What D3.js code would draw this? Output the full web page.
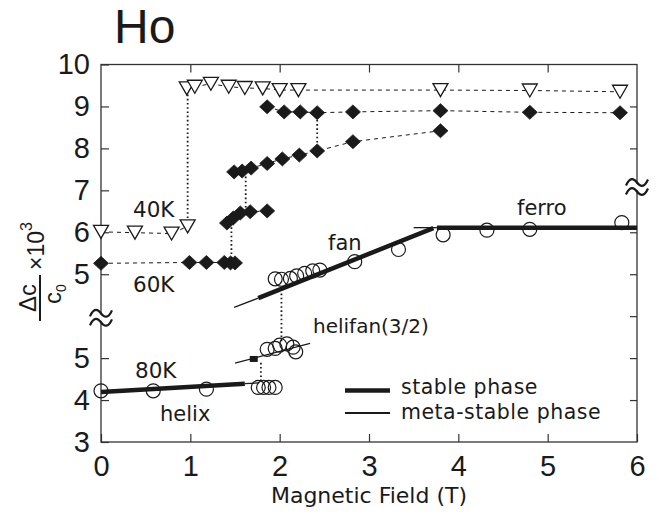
<!DOCTYPE html>
<html>
<head>
<meta charset="utf-8">
<script src="https://cdn.jsdelivr.net/npm/d3@7/dist/d3.min.js"></script>
<style>
  html, body { margin: 0; padding: 0; background: #fff; }
  svg { display: block; }
</style>
</head>
<body>
<script>
// ---- axis ticks ----
const xTicks = [0, 1, 2, 3, 4, 5, 6];
const yTicksUpper = [5, 6, 7, 8, 9, 10];
const yTicksLower = [3, 4, 5];

// ---- 40 K (open triangles, upper axis) ----
const k40LowField = [0, 0.38, 0.79, 0.97];
const k40LowDc = [6.01, 5.99, 5.97, 6.14];
const k40HighField = [0.96, 1.05, 1.23, 1.43, 1.61, 1.81, 2.00, 2.21, 3.80, 4.80, 5.81];
const k40HighDc = [9.43, 9.47, 9.54, 9.47, 9.44, 9.43, 9.39, 9.39, 9.39, 9.38, 9.35];

// ---- 60 K (filled diamonds, upper axis), four branches ----
const k60AField = [0, 0.99, 1.18, 1.38, 1.45, 1.50];
const k60ADc = [5.26, 5.28, 5.28, 5.28, 5.27, 5.27];
const k60BField = [1.41, 1.48, 1.56, 1.67, 1.86];
const k60BDc = [6.22, 6.34, 6.46, 6.49, 6.51];
const k60CField = [1.49, 1.58, 1.68, 1.86, 2.03, 2.22, 2.42, 2.82, 3.80];
const k60CDc = [7.44, 7.46, 7.53, 7.64, 7.75, 7.84, 7.94, 8.16, 8.42];
const k60DField = [1.86, 2.05, 2.23, 2.42, 2.82, 3.80, 4.80, 5.81];
const k60DDc = [8.99, 8.87, 8.87, 8.85, 8.87, 8.90, 8.86, 8.85];

// ---- 80 K (open circles, lower axis) ----
const k80HelixField = [0, 0.585, 1.18, 1.76, 1.82, 1.88, 1.95];
const k80HelixDc = [4.22, 4.22, 4.26, 4.30, 4.30, 4.30, 4.30];
const k80HelifanField = [1.86, 1.95, 2.00, 2.08, 2.15, 2.18];
const k80HelifanDc = [5.21, 5.23, 5.31, 5.34, 5.26, 5.15];
const k80FanField = [1.95, 2.02, 2.12, 2.19, 2.28, 2.37, 2.45, 2.84, 3.33, 3.83, 4.32, 4.80, 5.83];
const k80FanDc = [6.89, 6.88, 6.90, 6.96, 7.02, 7.08, 7.10, 7.30, 7.59, 7.94, 8.05, 8.07, 8.23];

// phase lines for 80 K: [field0, dc0, field1, dc1]
const stableLines = [
  [0, 4.19, 1.61, 4.39],     // helix
  [1.76, 6.43, 3.72, 8.10],  // fan
  [3.76, 8.11, 6.0, 8.11]    // ferro
];
const metaLines = [
  [1.61, 4.39, 1.77, 4.41],
  [1.50, 4.88, 2.34, 5.35],  // helifan(3/2)
  [1.49, 6.21, 1.76, 6.43],
  [3.50, 8.11, 3.76, 8.11]
];
const metaMarkField = 1.71, metaMarkDc = 4.98;

// vertical jumps: [field, dcFrom, dcTo]
const jumps40 = [[0.97, 6.14, 9.43]];
const jumps60 = [[1.46, 5.28, 6.22], [1.62, 6.49, 7.46], [2.42, 7.94, 8.85]];
const jumps80 = [[1.79, 4.45, 4.95], [2.02, 5.40, 6.67]];

// lower-axis values sit two units below the upper-axis grid
const LOWER_SHIFT = 2;

const W = 659, H = 517;
const svg = d3.select("body").append("svg").attr("width", W).attr("height", H);

const x = d3.scaleLinear().domain([0, 6]).range([101, 637]);
const y = d3.scaleLinear().domain([1, 10]).range([442, 64.5]);
const yLow = d3.scaleLinear().domain([1 + LOWER_SHIFT, 10 + LOWER_SHIFT]).range([442, 64.5]);

const ink = "#1a1a1a";
const labelFont = "'DejaVu Sans', sans-serif";
const tickFont = "'Liberation Sans', Arial, sans-serif";

// ---- frame ----
svg.append("rect")
  .attr("x", x(0)).attr("y", y(10))
  .attr("width", x(6) - x(0)).attr("height", y(1) - y(10))
  .attr("fill", "none").attr("stroke", "#333").attr("stroke-width", 1.3);

function styleAxis(g, showText) {
  g.select(".domain").remove();
  g.selectAll(".tick line").attr("stroke", "#333").attr("stroke-width", 1.2);
  g.selectAll(".tick text")
    .attr("fill", ink).style("font-family", tickFont).style("font-size", "29px");
  if (!showText) g.selectAll(".tick text").remove();
}

svg.append("g").attr("transform", `translate(0,${y(1)})`)
  .call(d3.axisBottom(x).tickValues(xTicks).tickFormat(d3.format("d")).tickSize(-8).tickPadding(13))
  .call(g => styleAxis(g, true));

svg.append("g").attr("transform", `translate(0,${y(10)})`)
  .call(d3.axisTop(x).tickValues([1, 2, 3, 4, 5]).tickSize(-8))
  .call(g => styleAxis(g, false));

svg.append("g").attr("transform", `translate(${x(0)},0)`)
  .call(d3.axisLeft(y).tickValues(yTicksUpper).tickFormat(d3.format("d")).tickSize(-8).tickPadding(11))
  .call(g => styleAxis(g, true));

svg.append("g").attr("transform", `translate(${x(0)},0)`)
  .call(d3.axisLeft(yLow).tickValues(yTicksLower).tickFormat(d3.format("d")).tickSize(-8).tickPadding(11))
  .call(g => styleAxis(g, true));

svg.append("g").attr("transform", `translate(${x(6)},0)`)
  .call(d3.axisRight(y).tickValues([2, 3, 4, 5, 6, 8, 9]).tickSize(-7))
  .call(g => styleAxis(g, false));

// axis break marks
function breakMark(cx, cy) {
  const g = svg.append("g").attr("transform", `translate(${cx},${cy})`);
  g.append("rect").attr("x", -3).attr("y", -3).attr("width", 6).attr("height", 6).attr("fill", "#fff");
  [-4.5, 4.5].forEach(dy => {
    g.append("path")
      .attr("d", `M-11,${dy + 3} C-7,${dy - 6} -3,${dy - 4} 0,${dy} C3,${dy + 4} 7,${dy + 6} 11,${dy - 3}`)
      .attr("fill", "none").attr("stroke", ink).attr("stroke-width", 2.2);
  });
}
breakMark(x(0), y(3.96));
breakMark(x(6), y(7.08));

// ---- helpers ----
const zip = (xs, ys) => xs.map((d, i) => [d, ys[i]]);
const dashed = "4,4";
const dotted = "1.6,2.6";

function drawPath(pts, yS, dash, width) {
  svg.append("path")
    .datum(pts)
    .attr("d", d3.line().x(d => x(d[0])).y(d => yS(d[1])))
    .attr("fill", "none").attr("stroke", ink)
    .attr("stroke-width", width).attr("stroke-dasharray", dash);
}
function drawJumps(list, yS) {
  list.forEach(j => drawPath([[j[0], j[1]], [j[0], j[2]]], yS, dotted, 1.8));
}

// ---- connecting lines ----
drawPath(zip(k40LowField, k40LowDc), y, dashed, 1);
drawPath(zip(k40HighField, k40HighDc), y, dashed, 1);
drawJumps(jumps40, y);

drawPath(zip(k60AField, k60ADc), y, dashed, 1);
drawPath(zip(k60BField, k60BDc), y, dashed, 1);
drawPath(zip(k60CField, k60CDc), y, dashed, 1);
drawPath(zip(k60DField, k60DDc), y, dashed, 1);
drawJumps(jumps60, y);

// 80 K phase lines
stableLines.forEach(s => drawPath([[s[0], s[1]], [s[2], s[3]]], yLow, null, 4.5));
metaLines.forEach(s => drawPath([[s[0], s[1]], [s[2], s[3]]], yLow, null, 1.3));
drawJumps(jumps80, yLow);

svg.append("rect")
  .attr("x", x(metaMarkField) - 4).attr("y", yLow(metaMarkDc) - 3)
  .attr("width", 8).attr("height", 6).attr("fill", ink);

// ---- markers ----
const triangle = "M-7.5,-6.5 L7.5,-6.5 L0,6.5 Z";
const diamond = "M0,-7 L7.5,0 L0,7 L-7.5,0 Z";

function drawMarkers(fields, values, yS, shape) {
  const g = svg.append("g");
  const pts = zip(fields, values);
  if (shape === "circle") {
    g.selectAll("circle").data(pts).join("circle")
      .attr("cx", d => x(d[0])).attr("cy", d => yS(d[1])).attr("r", 7)
      .attr("fill", "none").attr("stroke", ink).attr("stroke-width", 1.2);
  } else {
    g.selectAll("path").data(pts).join("path")
      .attr("transform", d => `translate(${x(d[0])},${yS(d[1])})`)
      .attr("d", shape === "tri" ? triangle : diamond)
      .attr("fill", shape === "tri" ? "#fff" : ink)
      .attr("stroke", ink).attr("stroke-width", shape === "tri" ? 1.3 : 0.8);
  }
}

drawMarkers(k40LowField, k40LowDc, y, "tri");
drawMarkers(k40HighField, k40HighDc, y, "tri");
drawMarkers(k60AField, k60ADc, y, "dia");
drawMarkers(k60BField, k60BDc, y, "dia");
drawMarkers(k60CField, k60CDc, y, "dia");
drawMarkers(k60DField, k60DDc, y, "dia");
drawMarkers(k80HelixField, k80HelixDc, yLow, "circle");
drawMarkers(k80HelifanField, k80HelifanDc, yLow, "circle");
drawMarkers(k80FanField, k80FanDc, yLow, "circle");

// ---- text labels ----
function label(txt, px, py, size, anchor) {
  return svg.append("text").attr("x", px).attr("y", py)
    .attr("text-anchor", anchor || "start")
    .style("font-family", labelFont).style("font-size", size + "px")
    .attr("fill", ink).text(txt);
}
label("40K", 133, 217, 21.5);
label("60K", 133, 292, 21.5);
label("80K", 135, 378, 21.5);
label("helix", 160, 421, 21);
label("fan", 328, 250, 21);
label("helifan(3/2)", 313, 333, 20);
label("ferro", 517, 215, 21);

// title
svg.append("text").attr("x", 114).attr("y", 43)
  .style("font-family", tickFont).style("font-size", "48px")
  .attr("fill", ink).text("Ho");

// x-axis title
label("Magnetic Field (T)", x(3), 503, 22, "middle");

// y-axis title: Δc / c0 × 10^3
const yt = svg.append("g").attr("transform", "translate(40,298) rotate(-90)")
  .style("font-family", tickFont).attr("fill", ink);
yt.append("text").attr("x", 0).attr("y", -4).attr("text-anchor", "middle")
  .style("font-size", "24px").text("Δc");
yt.append("line").attr("x1", -23).attr("x2", 23).attr("y1", 0).attr("y2", 0)
  .attr("stroke", ink).attr("stroke-width", 2);
const den = yt.append("text").attr("x", 4).attr("y", 21).attr("text-anchor", "middle")
  .style("font-size", "24px");
den.append("tspan").text("c");
den.append("tspan").attr("dy", 5).style("font-size", "14px").text("0");
const mult = yt.append("text").attr("x", 28).attr("y", 4).style("font-size", "23px");
mult.append("tspan").text("×10");
mult.append("tspan").attr("dy", -12).style("font-size", "16px").text("3");

// ---- legend ----
svg.append("line").attr("x1", 345).attr("x2", 390).attr("y1", 390.5).attr("y2", 390.5)
  .attr("stroke", ink).attr("stroke-width", 4.5);
svg.append("line").attr("x1", 345).attr("x2", 390).attr("y1", 413).attr("y2", 413)
  .attr("stroke", ink).attr("stroke-width", 2);
label("stable phase", 401, 394, 20.5).style("letter-spacing", "0.5px");
label("meta-stable phase", 401, 419, 20.5).style("letter-spacing", "0.5px");
</script>
</body>
</html>
